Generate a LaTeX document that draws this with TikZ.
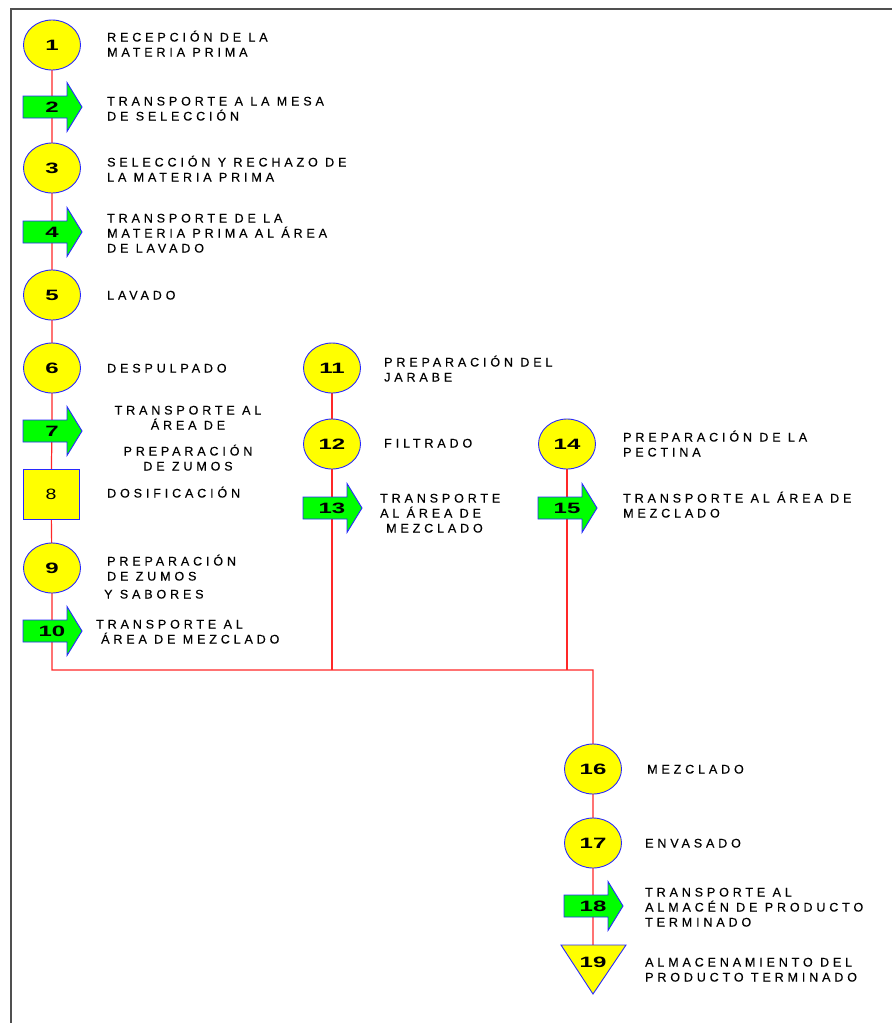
\documentclass[tikz,border=0pt]{standalone}
\usepackage{graphicx}
\usepackage{fontspec}
\setmainfont{Liberation Sans}
\newfontfamily\lblfont[LetterSpace=31,FakeBold=0.4]{Liberation Sans}
\usetikzlibrary{shapes.geometric,backgrounds}
\definecolor{fillyel}{RGB}{255,255,0}
\definecolor{fillgrn}{RGB}{0,255,0}
\definecolor{edgeblue}{RGB}{40,40,255}
\definecolor{flowred}{RGB}{255,40,40}
\definecolor{framegray}{RGB}{80,80,80}
\newcommand\numfont{\fontsize{15}{15}\selectfont\bfseries}
\newcommand\numtxt[1]{\scalebox{1.6}[1]{#1}}
\newcommand\transp[4]{%
  \begin{scope}[shift={(#2,#3)}]
    \filldraw[arrowshape] (-29,-11) -- (15,-11) -- (15,-24.5) -- (30,0) -- (15,24.5) -- (15,11) -- (-29,11) -- cycle;
    \node[numlabel] (#1) at (0,0) {\numtxt{#4}};
  \end{scope}}
\begin{document}
\begin{tikzpicture}[x=1pt,y=-1pt,
  opcircle/.style={ellipse, draw=edgeblue, fill=fillyel, line width=0.9pt,
    minimum width=57pt, minimum height=50pt, inner sep=0pt, font=\numfont},
  opsquare/.style={rectangle, draw=edgeblue, fill=fillyel, line width=0.9pt,
    minimum width=56pt, minimum height=50pt, inner sep=0pt, font=\fontsize{15}{15}\selectfont},
  arrowshape/.style={draw=edgeblue, fill=fillgrn, line width=0.9pt},
  storeshape/.style={draw=edgeblue, fill=fillyel, line width=0.9pt},
  numlabel/.style={inner sep=0pt, font=\numfont},
  lbl/.style={anchor=base west, inner sep=0pt, align=left, font=\lblfont\fontsize{12.5}{15}\selectfont},
  lblc/.style={anchor=base, inner sep=0pt, align=center, font=\lblfont\fontsize{12.5}{15}\selectfont},
  flow/.style={draw=flowred, line width=1.2pt},
  frame/.style={draw=framegray, line width=2pt}
]
\useasboundingbox (0,0) rectangle (892,1023);
\draw[frame] (11,1023) -- (11,9) -- (892,9);

% main column
\node[opcircle] (n1) at (52,45) {\numtxt{1}};
\transp{n2}{52}{107}{2}
\node[opcircle] (n3) at (52,168) {\numtxt{3}};
\transp{n4}{52}{232}{4}
\node[opcircle] (n5) at (52,295) {\numtxt{5}};
\node[opcircle] (n6) at (52,368) {\numtxt{6}};
\transp{n7}{52}{431}{7}
\node[opsquare] (n8) at (51,494) {\scalebox{1.3}[1]{8}};
\node[opcircle] (n9) at (52,568) {\numtxt{9}};
\transp{n10}{52}{631}{10}

% second column
\node[opcircle] (n11) at (332,368) {\numtxt{11}};
\node[opcircle] (n12) at (332,444) {\numtxt{12}};
\transp{n13}{332}{508}{13}

% third column
\node[opcircle] (n14) at (567,444) {\numtxt{14}};
\transp{n15}{567}{508}{15}

% final column
\node[opcircle] (n16) at (593,769) {\numtxt{16}};
\node[opcircle] (n17) at (593,843) {\numtxt{17}};
\transp{n18}{593}{906}{18}
\filldraw[storeshape] (561,945) -- (626,945) -- (593,994) -- cycle;
\node[numlabel] (n19) at (593,962) {\numtxt{19}};

\coordinate (junc) at (593,670);

\begin{scope}[on background layer]
  \draw[flow] (n1.center) -- (n2.center) -- (n3.center) -- (n4.center) -- (n5.center)
    -- (n6.center) -- (n7.center) -- (n8.center) -- (n9.center) -- (n10.center) |- (junc) -- (n16.center)
    -- (n17.center) -- (n18.center) -- (n19.center);
  \draw[flow] (n11.center) -- (n12.center) -- (n13.center) -- (n13 |- junc);
  \draw[flow] (n14.center) -- (n15.center) -- (n15 |- junc);
\end{scope}

% labels (positions give the baseline of the last line)
\node[lbl] (l1) at (107,56.5) {RECEPCIÓN DE LA\\MATERIA PRIMA};
\node[lbl] (l2) at (107,120.5) {TRANSPORTE A LA MESA\\DE SELECCIÓN};
\node[lbl] (l3) at (107,181.5) {SELECCIÓN Y RECHAZO DE\\LA MATERIA PRIMA};
\node[lbl] (l4) at (107,252.5) {TRANSPORTE DE LA\\MATERIA PRIMA AL ÁREA\\DE LAVADO};
\node[lbl] (l5) at (107,299.5) {LAVADO};
\node[lbl] (l6) at (107,372.5) {DESPULPADO};
\node[lblc] (l7) at (188,470.5) {TRANSPORTE AL\\ÁREA DE\\[11pt]PREPARACIÓN\\DE ZUMOS};
\node[lbl] (l8) at (107,497.5) {DOSIFICACIÓN};
\node[lbl] (l9) at (107,598.5) {PREPARACIÓN\\DE ZUMOS\\[3pt]\hspace*{-3pt}Y SABORES};
\node[lbl] (l10) at (96,643.5) {TRANSPORTE AL\\\hspace*{5pt}ÁREA DE MEZCLADO};
\node[lbl] (l11) at (384,381.5) {PREPARACIÓN DEL\\JARABE};
\node[lbl] (l12) at (384,447.5) {FILTRADO};
\node[lbl] (l13) at (380,532.5) {TRANSPORTE\\AL ÁREA DE\\\hspace*{6pt}MEZCLADO};
\node[lbl] (l14) at (623,456.5) {PREPARACIÓN DE LA\\PECTINA};
\node[lbl] (l15) at (623,517.5) {TRANSPORTE AL ÁREA DE\\MEZCLADO};
\node[lbl] (l16) at (647,773.5) {MEZCLADO};
\node[lbl] (l17) at (645,847.5) {ENVASADO};
\node[lbl] (l18) at (645,926.5) {TRANSPORTE AL\\ALMACÉN DE PRODUCTO\\TERMINADO};
\node[lbl] (l19) at (645,981.5) {ALMACENAMIENTO DEL\\PRODUCTO TERMINADO};
\end{tikzpicture}
\end{document}
